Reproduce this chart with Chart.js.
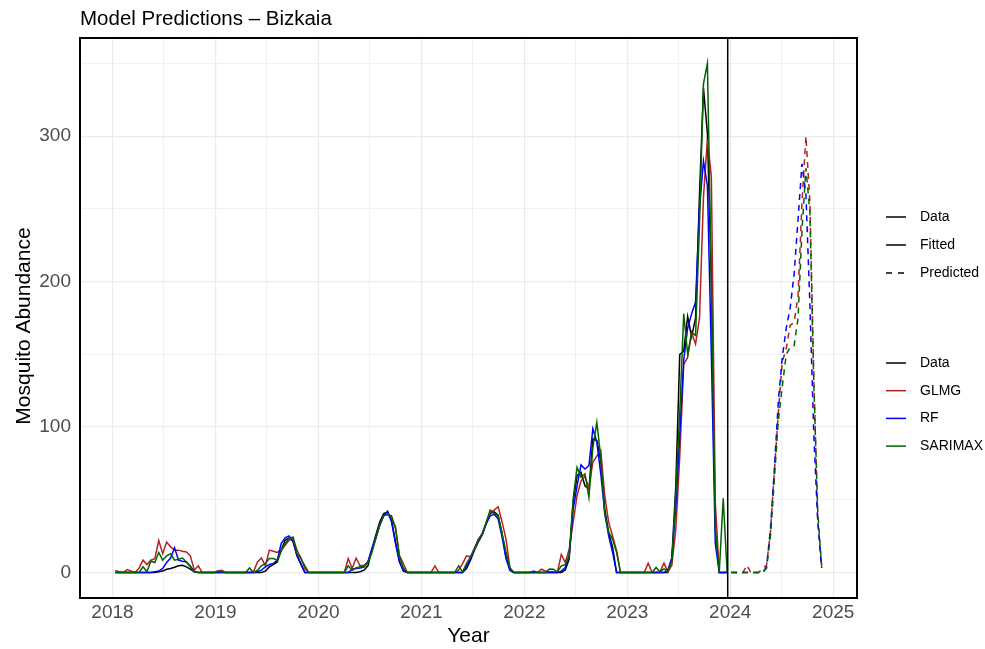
<!DOCTYPE html>
<html>
<head>
<meta charset="utf-8">
<script src="https://cdn.jsdelivr.net/npm/chart.js@4.4.0/dist/chart.umd.min.js"></script>
<style>
  html, body { margin: 0; padding: 0; background: #fff; }
  canvas { display: block; }
</style>
</head>
<body>
<canvas id="chart" width="985" height="649"></canvas>
<script>
// Biweekly observations, first sample on 2018-01-11
const firstDate = '2018-01-11';
const stepDays = 14;
const cutoffDate = '2023-12-23';

const chartTitle = 'Model Predictions \u2013 Bizkaia';
const yTitle = 'Mosquito Abundance';
const xBreaks = [2018, 2019, 2020, 2021, 2022, 2023, 2024, 2025];
const yBreaks = [0, 100, 200, 300];

const seriesNames = ['Data', 'GLMG', 'RF', 'SARIMAX'];
const seriesColors = ['#000000', '#B22222', '#0000FF', '#006400'];
const lineTypes = ['Data', 'Fitted', 'Predicted'];

// fitted period (2018 - 2023)
const observed = [
  0,0,0,0,0,0,0,0,0,0,
  0,0.5,1,2.3,2.8,3.7,4.6,5,3.9,2.3,
  0.5,0,0,0,0,0,0,0,0,0,
  0,0,0,0,0,0,0,0,1,3.9,
  5.5,7.3,15.4,22.2,23.8,21.5,11.5,5.5,0,0,
  0,0,0,0,0,0,0,0,0,0,
  0,0,0.5,1.6,4.6,15.4,25.7,34.8,40.6,41.7,
  36,21,7.8,1,0,0,0,0,0,0,
  0,0,0,0,0,0,0,0,0,2.8,
  8.5,15.4,21,26,33.7,40.6,41.7,39.4,26.8,10.8,
  1.6,0,0,0,0,0,0,0,0,0,
  0,0,0,0,1.8,9.2,48.3,66.6,68.9,59.6,
  57.3,91.8,90.7,77,43.6,27.6,17.3,0,0,0,
  0,0,0,0,0,0,0,0,0,0,
  0,10,60,150,152,176,162,175,260,333,
  302,200,30,0,0,0
];
const glmgFit = [
  1.4,0.5,0,2,1,0,3,8.5,5.5,8.5,
  9.6,22,13,21,17.6,15.4,15.4,14.7,14.2,11.5,
  1.6,4.6,0,0,0,0,1,1.5,0,0,
  0,0,0,0,0,0.5,7.3,10,4.6,15.4,
  14.7,13.8,15.4,18.8,22.2,23.8,15.4,10,2.8,0,
  0,0,0,0,0,0,0,0,0,9.6,
  2.8,10,4.6,5,7.3,15.4,23.4,32.6,39,40,
  37.6,31.4,11.9,6.2,0,0,0,0,0,0,
  0,4.6,0,0,0,0,0,1.6,6.2,11.5,
  10.8,16.5,23,26.8,33.7,41.7,42.9,45.2,34.8,23,
  3.2,0,0,0,0,0,0.5,0,2.3,1,
  0.5,0.5,0,12.4,7,16,34.5,53,63,66,
  58,76,80,84,53,34.5,25,15,0,0,
  0,0,0,0,0,6.5,0,0,0.5,6.5,
  0.5,5,30,80,143,148,165,157,175,258,
  298,272,48,0,0,0
];
const rfFit = [
  0,0,0,0,0,0,0,0,0,0,
  0.5,1,2.8,6.9,10,17,8.5,7.8,7.3,4.6,
  0.5,0,0,0,0,0,0,0,0,0,
  0,0,0,0,0,0,0.5,1.6,3.9,5.5,
  6.2,8.5,20,23.8,25.2,21.5,11.9,6.2,0,0,
  0,0,0,0,0,0,0,0,0,0,
  2.3,2.8,3.2,3.7,7.3,16.5,24.5,32.6,39,42.2,
  34.8,20,7.3,1.6,0,0,0,0,0,0,
  0,0,0,0,0,0,0,0,0,4.6,
  9.2,16.5,22.2,26.8,33.7,39,40,37,24.5,9.6,
  1.6,0,0,0,0,0,0,0,0,0,
  0,0,0,1,3.4,11.5,43.6,59.6,74,71.2,
  73.5,99,89.6,67.8,41.4,25.3,13.8,0,0,0,
  0,0,0,0,0,0,0,0,0,0,
  2,10,45,95,146,168,178,186,250,283,
  266,150,20,0,0,0
];
const sarimaxFit = [
  0,0,0,0,0,0,0,3.9,0.5,7.8,
  6.9,13.8,8.5,11.5,13,8.5,9.2,10,7.3,3.9,
  0.5,0,0,0,0,0,1,0.5,0,0,
  0,0,0,0,3.2,0,1.6,4.6,6.2,9.6,
  9.6,8.5,14.7,20,23.4,24.5,13,9.6,4.6,0,
  0,0,0,0,0,0,0,0,0,4.6,
  1.6,3.2,3.9,3.9,6.9,13.8,23.4,32.6,39,40,
  39,30.3,10.8,3.2,0,0,0,0,0,0,
  0,0,0,0,0,0,0,4.6,0.5,6.2,
  10.8,16,22.2,26.8,34.8,42.9,40.6,39,26.8,14.2,
  3.2,0,0,0,0,0,1,0,0,0,
  2.5,2.3,0.5,4.6,5.3,11.5,50.6,72.4,65.5,67.8,
  51.7,86,103.3,79.2,40.2,27.6,23,13.8,0,0,
  0,0,0,0,0,0,0,3.5,0.5,2.5,
  1,8,55,110,178,150,165,163,240,336,
  350,200,30,0,51,0
];

// predicted period (2024)
const glmgPred = [0,0,0,0,5,0,0,0,3,5,28,70,110,145,154,170,172,190,255,300,255,135,37,4];
const rfPred = [0,0,0,0,0,0,0,0,0,4,30,72,118,148,168,182,205,243,281,260,185,95,35,3];
const sarimaxPred = [0,0,0,0,0,0,0,0,0,3,25,65,105,128,150,155,156,175,235,278,248,130,42,4];

function decYear(d) {
  const y = d.getUTCFullYear();
  const s = Date.UTC(y, 0, 1), e = Date.UTC(y + 1, 0, 1);
  return y + (d.getTime() - s) / (e - s);
}
function sampleYear(i) {
  return decYear(new Date(Date.parse(firstDate) + i * stepDays * 864e5));
}
function toPoints(values, offset) {
  return values.map((v, i) => ({ x: sampleYear(i + offset), y: v }));
}

const nFit = observed.length;
const fits = [observed, glmgFit, rfFit, sarimaxFit];
const preds = [null, glmgPred, rfPred, sarimaxPred];

const datasets = [];
fits.forEach((vals, k) => {
  datasets.push({
    label: seriesNames[k] + ' fitted',
    data: toPoints(vals, 0),
    borderColor: seriesColors[k],
    borderWidth: 1.5,
    pointRadius: 0,
    tension: 0,
    order: 4 - k
  });
});
preds.forEach((vals, k) => {
  if (!vals) return;
  datasets.push({
    label: seriesNames[k] + ' predicted',
    data: toPoints(vals, nFit),
    borderColor: seriesColors[k],
    borderWidth: 1.5,
    borderDash: [6, 5],
    pointRadius: 0,
    tension: 0,
    order: 4 - k
  });
});

// axis limits with 5% expansion like ggplot
const xFirst = sampleYear(0);
const xLast = sampleYear(nFit + glmgPred.length - 1);
const xPad = (xLast - xFirst) * 0.05;
const allVals = fits.concat(preds.filter(p => p)).flat();
const yMaxVal = Math.max(...allVals);
const yPad = yMaxVal * 0.05;

const xGrid = [];
xBreaks.forEach((b, k) => { xGrid.push(b); if (k < xBreaks.length - 1) xGrid.push(b + 0.5); });
const yGrid = [];
yBreaks.forEach(b => { yGrid.push(b); yGrid.push(b + 50); });

const FONT = '"Liberation Sans", Arial, Helvetica, sans-serif';
const gridColor = '#EBEBEB';

const decor = {
  id: 'decor',
  afterDatasetsDraw(chart) {
    const { ctx, chartArea: a, scales } = chart;
    ctx.save();
    const cx = scales.x.getPixelForValue(decYear(new Date(Date.parse(cutoffDate))));
    ctx.strokeStyle = '#000';
    ctx.lineWidth = 1.5;
    ctx.beginPath();
    ctx.moveTo(cx, a.top);
    ctx.lineTo(cx, a.bottom);
    ctx.stroke();
    ctx.lineWidth = 2;
    ctx.strokeRect(a.left, a.top, a.right - a.left, a.bottom - a.top);
    ctx.restore();
  },
  afterDraw(chart) {
    const { ctx, chartArea: a } = chart;
    ctx.save();
    ctx.fillStyle = '#000';
    ctx.font = '20.5px ' + FONT;
    ctx.textAlign = 'left';
    ctx.textBaseline = 'alphabetic';
    ctx.fillText(chartTitle, a.left, 25);

    // y axis title
    ctx.save();
    ctx.translate(24, 326);
    ctx.rotate(-Math.PI / 2);
    ctx.font = '21px ' + FONT;
    ctx.textAlign = 'center';
    ctx.textBaseline = 'middle';
    ctx.fillText(yTitle, 0, 0);
    ctx.restore();

    ctx.font = '14px ' + FONT;
    ctx.textBaseline = 'middle';
    ctx.lineWidth = 1.5;
    lineTypes.forEach((name, k) => {
      const y = 217 + k * 28;
      ctx.strokeStyle = '#000';
      ctx.setLineDash(name === 'Predicted' ? [6, 6] : []);
      ctx.beginPath();
      ctx.moveTo(886, y);
      ctx.lineTo(906, y);
      ctx.stroke();
      ctx.fillText(name, 920, y);
    });
    ctx.setLineDash([]);
    seriesNames.forEach((name, k) => {
      const y = 363 + k * 27.7;
      ctx.strokeStyle = seriesColors[k];
      ctx.beginPath();
      ctx.moveTo(886, y);
      ctx.lineTo(906, y);
      ctx.stroke();
      ctx.fillStyle = '#000';
      ctx.fillText(name, 920, y);
    });
    ctx.restore();
  }
};

new Chart(document.getElementById('chart'), {
  type: 'line',
  data: { datasets: datasets },
  options: {
    responsive: false,
    animation: false,
    devicePixelRatio: 1,
    layout: { padding: { left: 0, right: 128, top: 38, bottom: 0 } },
    plugins: { legend: { display: false }, tooltip: { enabled: false } },
    scales: {
      x: {
        type: 'linear',
        min: xFirst - xPad,
        max: xLast + xPad,
        afterBuildTicks: s => { s.ticks = xGrid.map(v => ({ value: v })); },
        afterFit: s => { s.height = 51; },
        grid: {
          drawTicks: false,
          color: gridColor,
          lineWidth: c => Number.isInteger(c.tick.value) ? 1.2 : 0.7
        },
        border: { display: false },
        ticks: {
          autoSkip: false,
          maxRotation: 0,
          padding: 3,
          color: '#4D4D4D',
          font: { family: FONT, size: 19 },
          callback: v => Number.isInteger(v) ? String(v) : ''
        },
        title: {
          display: true,
          text: 'Year',
          color: '#000',
          font: { family: FONT, size: 21 },
          padding: { top: 0, bottom: 0 }
        }
      },
      y: {
        type: 'linear',
        min: -yPad,
        max: yMaxVal + yPad,
        afterBuildTicks: s => { s.ticks = yGrid.map(v => ({ value: v })); },
        afterFit: s => { s.width = 80; },
        grid: {
          drawTicks: false,
          color: gridColor,
          lineWidth: c => c.tick.value % 100 === 0 ? 1.2 : 0.7
        },
        border: { display: false },
        ticks: {
          padding: 9,
          color: '#4D4D4D',
          font: { family: FONT, size: 19 },
          callback: v => v % 100 === 0 ? String(v) : ''
        }
      }
    }
  },
  plugins: [decor]
});
</script>
</body>
</html>
